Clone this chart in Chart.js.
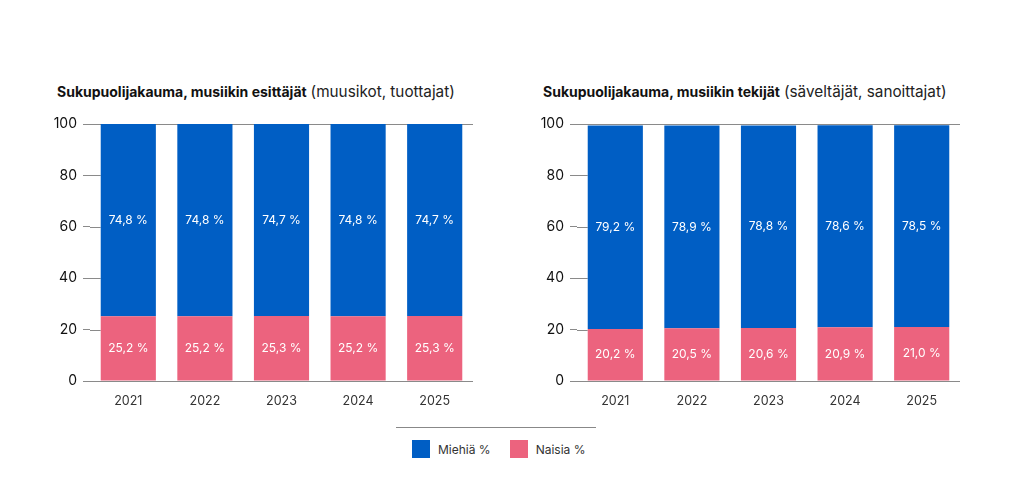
<!DOCTYPE html>
<html>
<head>
<meta charset="utf-8">
<script src="https://cdn.jsdelivr.net/npm/chart.js@4.4.1/dist/chart.umd.min.js"></script>
<style>
    body { margin: 0; background: #fff; font-family: Inter, sans-serif; }
    #wrap { position: relative; width: 1024px; height: 500px; }
    .title { position: absolute; top: 82px; font-size: 14px; color: #111; white-space: nowrap; }
    .title b { font-weight: 700; }
    .title span { font-size: 15.3px; color: #222; }
    canvas { position: absolute; }
    #legendLine { position: absolute; left: 396px; top: 427px; width: 200px; height: 1px; background: #888; }
    #legend { position: absolute; left: 412px; top: 440px; display: flex; font-size: 12px; color: #333; }
    .item { display: flex; align-items: center; margin-right: 19px; }
    .box { width: 18px; height: 18px; margin-right: 8px; }
</style>
</head>
<body>
<div id="wrap">
    <div class="title" style="left:57px"><b>Sukupuolijakauma, musiikin esittäjät</b> <span>(muusikot, tuottajat)</span></div>
    <div class="title" style="left:543px"><b>Sukupuolijakauma, musiikin tekijät</b> <span>(säveltäjät, sanoittajat)</span></div>
    <canvas id="leftChart" width="440" height="321" style="left:40px; top:100px"></canvas>
    <canvas id="rightChart" width="440" height="321" style="left:527px; top:100px"></canvas>
    <div id="legendLine"></div>
    <div id="legend"></div>
</div>
<script>
// Data
const years = ['2021', '2022', '2023', '2024', '2025'];
const seriesNames = ['Miehiä %', 'Naisia %'];
const performersMen = [74.8, 74.8, 74.7, 74.8, 74.7];
const performersWomen = [25.2, 25.2, 25.3, 25.2, 25.3];
const creatorsMen = [79.2, 78.9, 78.8, 78.6, 78.5];
const creatorsWomen = [20.2, 20.5, 20.6, 20.9, 21.0];
const yTicks = [0, 20, 40, 60, 80, 100];

const blue = '#005EC4';
const pink = '#EC637E';
const axisGray = '#8a8a8a';

// Extend the short y tick marks up to the first bar
const tickExtension = {
    id: 'tickExtension',
    beforeDatasetsDraw(chart) {
        const ctx = chart.ctx;
        const y = chart.scales.y;
        const firstBar = chart.getDatasetMeta(0).data[0];
        const end = firstBar.x - firstBar.width / 2;
        ctx.save();
        ctx.strokeStyle = axisGray;
        ctx.lineWidth = 1;
        yTicks.forEach(v => {
            if (v === 0 || v === 100) return;
            const py = Math.round(y.getPixelForValue(v)) + 0.5;
            ctx.beginPath();
            ctx.moveTo(chart.chartArea.left, py);
            ctx.lineTo(end, py);
            ctx.stroke();
        });
        ctx.restore();
    }
};

// White value labels inside each bar segment
const segmentLabels = {
    id: 'segmentLabels',
    afterDatasetsDraw(chart) {
        const ctx = chart.ctx;
        ctx.save();
        ctx.fillStyle = '#fff';
        ctx.font = '12px Inter, sans-serif';
        ctx.textAlign = 'center';
        ctx.textBaseline = 'middle';
        chart.data.datasets.forEach((ds, i) => {
            chart.getDatasetMeta(i).data.forEach((bar, j) => {
                const y = (bar.y + bar.base) / 2;
                ctx.fillText(ds.data[j].toFixed(1).replace('.', ',') + ' %', bar.x, y);
            });
        });
        ctx.restore();
    }
};

function renderChart(id, men, women) {
    const ctx = document.getElementById(id);
    return new Chart(ctx, {
        type: 'bar',
        data: {
            labels: years,
            datasets: [
                {
                    label: seriesNames[1],
                    data: women,
                    backgroundColor: pink,
                    barPercentage: 0.72,
                    categoryPercentage: 1
                },
                {
                    label: seriesNames[0],
                    data: men,
                    backgroundColor: blue,
                    barPercentage: 0.72,
                    categoryPercentage: 1
                }
            ]
        },
        options: {
            responsive: false,
            animation: false,
            layout: { padding: { top: 24, right: 7, bottom: 0, left: 0 } },
            scales: {
                x: {
                    stacked: true,
                    grid: { display: false },
                    border: { display: false },
                    ticks: { color: '#333', font: { size: 12.5, family: 'Inter' }, padding: 5 },
                    afterFit: s => { s.height = 40; }
                },
                y: {
                    stacked: true,
                    min: 0,
                    max: 100,
                    afterBuildTicks: s => { s.ticks = yTicks.map(v => ({ value: v })); },
                    border: { display: false },
                    grid: {
                        color: c => (c.tick && (c.tick.value === 0 || c.tick.value === 100)) ? axisGray : 'transparent',
                        tickColor: axisGray,
                        tickLength: 7
                    },
                    ticks: { color: '#111', font: { size: 14, family: 'Inter' }, padding: 6 },
                    afterFit: s => { s.width = 50; }
                }
            },
            plugins: {
                legend: { display: false },
                tooltip: { enabled: false }
            }
        },
        plugins: [tickExtension, segmentLabels]
    });
}

renderChart('leftChart', performersMen, performersWomen);
renderChart('rightChart', creatorsMen, creatorsWomen);

// Legend
const legendColors = [blue, pink];
document.getElementById('legend').innerHTML = seriesNames.map((name, i) =>
    `<div class="item"><div class="box" style="background:${legendColors[i]}"></div><span>${name}</span></div>`
).join('');
</script>
</body>
</html>
